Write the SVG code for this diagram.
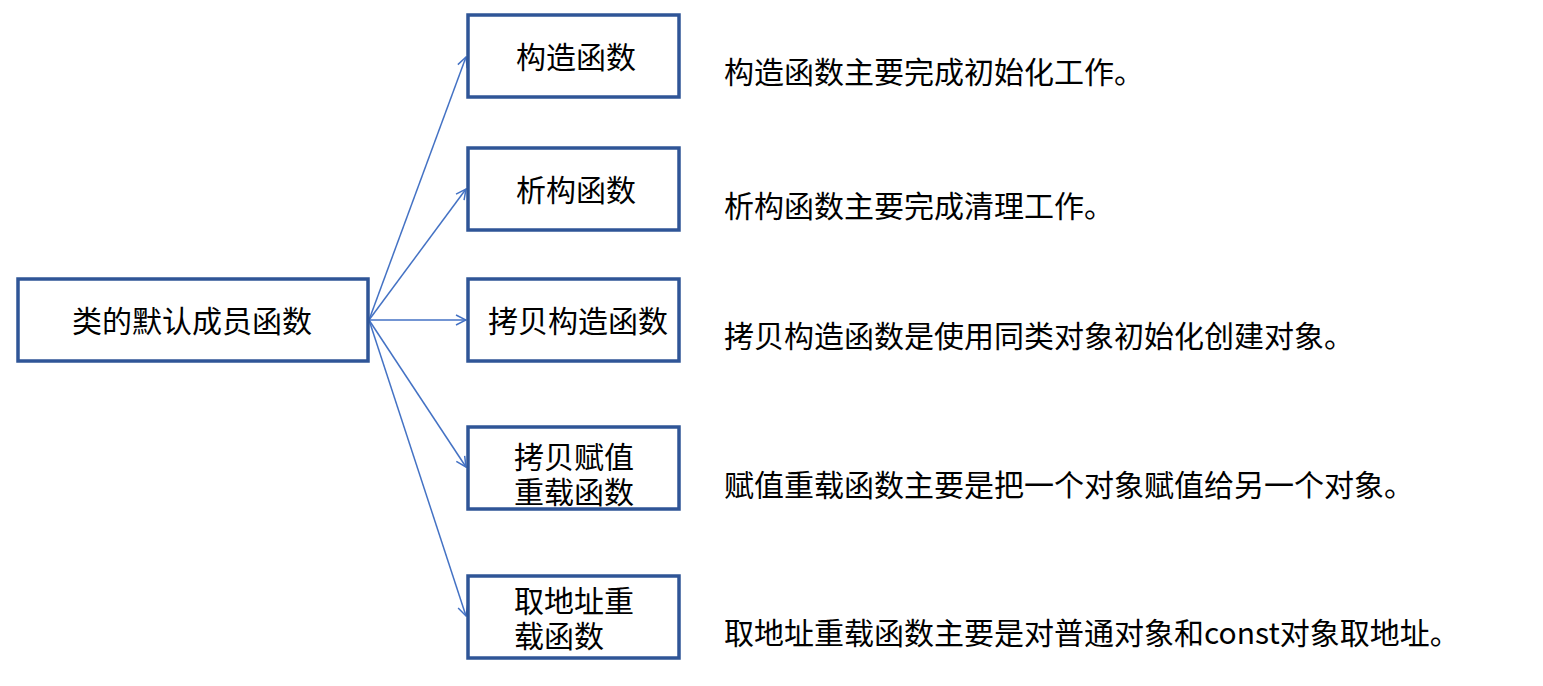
<svg xmlns="http://www.w3.org/2000/svg" width="1543" height="686" viewBox="0 0 1543 686">
<style>
.box{fill:#fff;stroke:#2F5597;stroke-width:3.5}
.t{font-family:"Noto Sans CJK SC","Microsoft YaHei",sans-serif;font-size:30px;fill:#000}
.c{stroke:#4472C4;stroke-width:1.5;fill:none}
</style>
<defs>
<marker id="arr" viewBox="0 0 12 12" refX="11" refY="6" markerWidth="12" markerHeight="12" markerUnits="userSpaceOnUse" orient="auto">
<path d="M1,1 L11,6 L1,11" fill="none" stroke="#4472C4" stroke-width="1.5"/>
</marker>
</defs>
<rect width="1543" height="686" fill="#fff"/>
<g id="connectors">
<line class="c" x1="369" y1="320" x2="466" y2="57" marker-end="url(#arr)"/>
<line class="c" x1="369" y1="320" x2="466" y2="189" marker-end="url(#arr)"/>
<line class="c" x1="369" y1="320" x2="466" y2="320" marker-end="url(#arr)"/>
<line class="c" x1="369" y1="320" x2="466" y2="467" marker-end="url(#arr)"/>
<line class="c" x1="369" y1="320" x2="466" y2="616" marker-end="url(#arr)"/>
</g>
<g id="root">
<rect class="box" x="18" y="279" width="350" height="82"/>
<text class="t" x="192" y="332" text-anchor="middle">类的默认成员函数</text>
</g>
<g id="n1">
<rect class="box" x="468" y="15" width="211" height="82"/>
<text class="t" x="576" y="68" text-anchor="middle">构造函数</text>
</g>
<g id="n2">
<rect class="box" x="468" y="148" width="211" height="82"/>
<text class="t" x="576" y="201" text-anchor="middle">析构函数</text>
</g>
<g id="n3">
<rect class="box" x="468" y="279" width="211" height="82"/>
<text class="t" x="578" y="332" text-anchor="middle">拷贝构造函数</text>
</g>
<g id="n4">
<rect class="box" x="468" y="427" width="211" height="82"/>
<text class="t" x="514" y="468">拷贝赋值</text>
<text class="t" x="514" y="503">重载函数</text>
</g>
<g id="n5">
<rect class="box" x="468" y="576" width="211" height="82"/>
<text class="t" x="514" y="612">取地址重</text>
<text class="t" x="514" y="647">载函数</text>
</g>
<g id="descriptions">
<text class="t" x="724" y="83">构造函数主要完成初始化工作。</text>
<text class="t" x="724" y="217">析构函数主要完成清理工作。</text>
<text class="t" x="724" y="347">拷贝构造函数是使用同类对象初始化创建对象。</text>
<text class="t" x="724" y="496">赋值重载函数主要是把一个对象赋值给另一个对象。</text>
<text class="t" x="724" y="644">取地址重载函数主要是对普通对象和const对象取地址。</text>
</g>
</svg>
